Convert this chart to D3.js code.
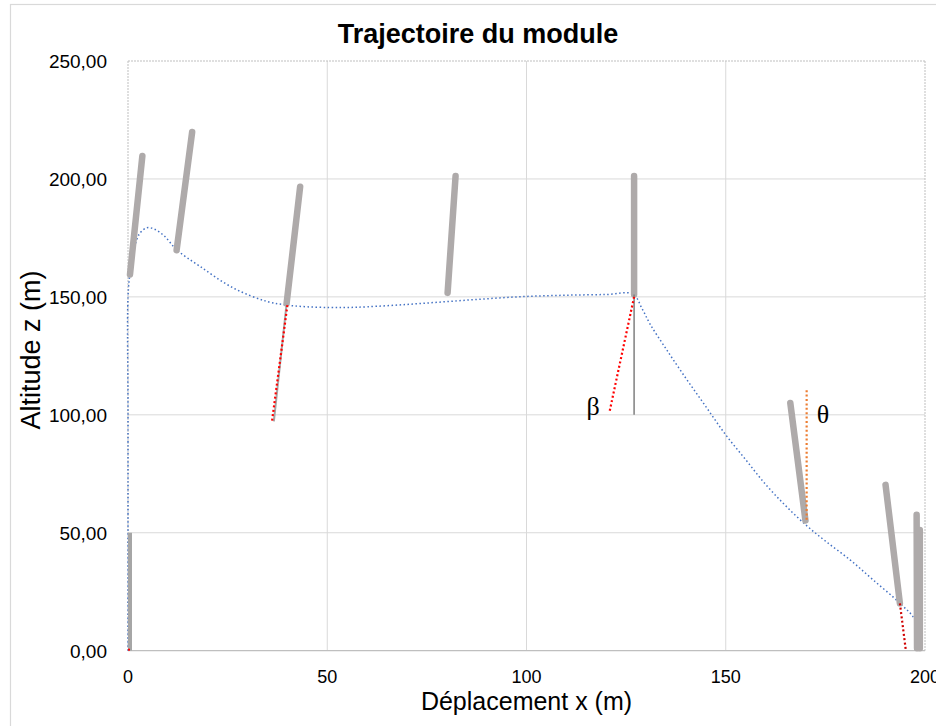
<!DOCTYPE html>
<html>
<head>
<meta charset="utf-8">
<script src="https://cdn.jsdelivr.net/npm/d3@7"></script>
<style>
  html, body { margin: 0; padding: 0; background: #fff; }
  svg { display: block; }
</style>
</head>
<body>
<svg id="chart" width="936" height="726"></svg>
<script>
// ---- Data ----
const title = "Trajectoire du module";
const xLabel = "Déplacement x (m)";
const yLabel = "Altitude z (m)";
const xTicks = [0, 50, 100, 150, 200];
const yTicks = [0, 50, 100, 150, 200, 250];

// trajectory of the module (blue dotted)
const trajX = [0, 0, 0, 0.5, 1.5, 2.8, 4.7, 6.5, 9, 12.2, 18, 26.4, 34.8, 40, 45, 50.7, 55, 60, 70, 80, 90, 100, 110, 120, 126.7, 129, 131, 135, 140, 145, 150, 155, 160, 165, 170.3, 175, 181.2, 187, 193.7, 197.5, 198.5];
const trajZ = [0, 100, 150, 160, 170, 176.5, 179.3, 178.8, 176, 170, 163, 153.8, 148.1, 146.5, 145.8, 145.5, 145.5, 145.8, 146.8, 148, 149.2, 150.2, 150.7, 151, 151.2, 145, 138.5, 128, 115.5, 103.5, 91.5, 81, 70.5, 61.5, 53, 46.5, 38.5, 30, 20.1, 13, 4];

// module rods (thick grey): base -> top
const rodX1 = [0.5, 12.2, 39.8, 80.2, 127, 170, 193.7, 198.0, 198.7];
const rodZ1 = [159.5, 169.8, 147.2, 151.7, 151, 55.2, 20.1, 1, 1];
const rodX2 = [3.6, 16.1, 43.2, 82.2, 127, 166.2, 190.1, 197.9, 198.7];
const rodZ2 = [209.7, 219.9, 196.7, 201.2, 201.2, 105, 70.3, 57.6, 51.2];

// initial vertical rod at the origin
const startRodX = [0, 0];
const startRodZ = [0, 50];

// thin grey reference lines
const refX1 = [39.8, 127];
const refZ1 = [147.2, 151];
const refX2 = [36.6, 127];
const refZ2 = [97.2, 100];
const refColor = ["#a6a6a6", "#7f7f7f"];
const refWidth = [2, 1.5];

// dotted angle lines (red = beta, orange = theta)
const angX1 = [40, 127, 193.7, 170.3];
const angZ1 = [146.5, 150, 20.1, 55.5];
const angX2 = [36.1, 120.8, 195.2, 170.3];
const angZ2 = [96.8, 101, 0, 111.4];
const angColor = ["#ff0000", "#ff0000", "#d00000", "#ed7d31"];

// greek labels
const symText = ["β", "θ"];
const symX = [116.7, 174.4];
const symZ = [100, 96.6];

// ---- Drawing ----
const svg = d3.select("#chart");
const L = 128, R = 925, T = 61, B = 650.7;
const x = d3.scaleLinear().domain([0, 200]).range([L, R]);
const y = d3.scaleLinear().domain([0, 250]).range([B, T]);

const font = "'Liberation Sans', Arial, sans-serif";

// outer chart border
svg.append("rect").attr("x", 10.5).attr("y", 4.5).attr("width", 960).attr("height", 760)
  .attr("fill", "#fff").attr("stroke", "#d9d9d9").attr("stroke-width", 1.2);

// gridlines
svg.append("g").selectAll("line").data(yTicks.filter(d => d > 0 && d < 250)).join("line")
  .attr("x1", L).attr("x2", R).attr("y1", d => y(d)).attr("y2", d => y(d))
  .attr("stroke", "#d9d9d9").attr("stroke-width", 1);
svg.append("g").selectAll("line").data(xTicks.filter(d => d > 0 && d < 200)).join("line")
  .attr("y1", T).attr("y2", B).attr("x1", d => x(d)).attr("x2", d => x(d))
  .attr("stroke", "#d9d9d9").attr("stroke-width", 1);

// plot area border (dashed) top / right / left
const dashed = [[L, T, R, T], [R, T, R, B], [L, T, L, B]];
svg.append("g").selectAll("line").data(dashed).join("line")
  .attr("x1", d => d[0]).attr("y1", d => d[1]).attr("x2", d => d[2]).attr("y2", d => d[3])
  .attr("stroke", "#bfbfbf").attr("stroke-width", 1).attr("stroke-dasharray", "2,1");

// x axis line
svg.append("line").attr("x1", L).attr("x2", R).attr("y1", B).attr("y2", B)
  .attr("stroke", "#bfbfbf").attr("stroke-width", 1.2);

// tick labels
const fmt = d => d.toFixed(2).replace(".", ",");
svg.append("g").selectAll("text").data(yTicks).join("text")
  .attr("x", 107).attr("y", d => y(d) + 6.8).attr("text-anchor", "end")
  .attr("font-family", font).attr("font-size", 19).attr("fill", "#000")
  .text(fmt);
svg.append("g").selectAll("text").data(xTicks).join("text")
  .attr("x", d => x(d)).attr("y", 683).attr("text-anchor", "middle")
  .attr("font-family", font).attr("font-size", 18).attr("fill", "#000")
  .text(d => d);

// titles
svg.append("text").attr("x", 478).attr("y", 43).attr("text-anchor", "middle")
  .attr("font-family", font).attr("font-size", 27).attr("font-weight", "bold").text(title);
svg.append("text").attr("x", (L + R) / 2).attr("y", 710).attr("text-anchor", "middle")
  .attr("font-family", font).attr("font-size", 25).text(xLabel);
svg.append("text").attr("transform", "translate(40,350) rotate(-90)").attr("text-anchor", "middle")
  .attr("font-family", font).attr("font-size", 27).text(yLabel);

// trajectory
const traj = trajX.map((d, i) => [d, trajZ[i]]);
const line = d3.line().x(d => x(d[0])).y(d => y(d[1])).curve(d3.curveCatmullRom.alpha(0.5));
svg.append("path").datum(traj).attr("d", line)
  .attr("fill", "none").attr("stroke", "#4472c4").attr("stroke-width", 1.5)
  .attr("stroke-dasharray", "1.5,2.5");

// start rod
svg.append("line")
  .attr("x1", x(startRodX[0]) + 2).attr("y1", y(startRodZ[0]))
  .attr("x2", x(startRodX[1]) + 2).attr("y2", y(startRodZ[1]))
  .attr("stroke", "#a6a6a6").attr("stroke-width", 4);

// rods
svg.append("g").selectAll("line").data(rodX1).join("line")
  .attr("x1", (d, i) => x(rodX1[i])).attr("y1", (d, i) => y(rodZ1[i]))
  .attr("x2", (d, i) => x(rodX2[i])).attr("y2", (d, i) => y(rodZ2[i]))
  .attr("stroke", "#aeaaaa").attr("stroke-width", 6.5).attr("stroke-linecap", "round");

// thin reference lines
svg.append("g").selectAll("line").data(refX1).join("line")
  .attr("x1", (d, i) => x(refX1[i])).attr("y1", (d, i) => y(refZ1[i]))
  .attr("x2", (d, i) => x(refX2[i])).attr("y2", (d, i) => y(refZ2[i]))
  .attr("stroke", (d, i) => refColor[i]).attr("stroke-width", (d, i) => refWidth[i]);

// dotted angle lines
svg.append("g").selectAll("line").data(angX1).join("line")
  .attr("x1", (d, i) => x(angX1[i])).attr("y1", (d, i) => y(angZ1[i]))
  .attr("x2", (d, i) => x(angX2[i])).attr("y2", (d, i) => y(angZ2[i]))
  .attr("stroke", (d, i) => angColor[i]).attr("stroke-width", 2.2)
  .attr("stroke-dasharray", "2,2.4");

// red dot at origin
svg.append("rect").attr("x", x(0)).attr("y", y(0) - 2).attr("width", 2).attr("height", 2).attr("fill", "#ff0000");

// greek labels
svg.append("g").selectAll("text").data(symText).join("text")
  .attr("x", (d, i) => x(symX[i])).attr("y", (d, i) => y(symZ[i]))
  .attr("text-anchor", "middle")
  .attr("font-family", "'Liberation Serif', 'Times New Roman', serif")
  .attr("font-size", 26).attr("fill", "#000").text(d => d);
</script>
</body>
</html>
